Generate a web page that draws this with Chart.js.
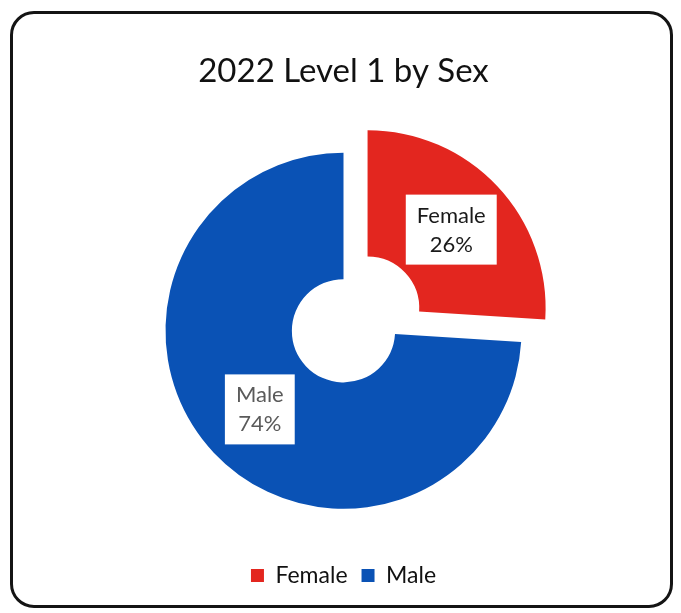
<!DOCTYPE html>
<html>
<head>
<meta charset="utf-8">
<script src="https://cdn.jsdelivr.net/npm/chart.js@4/dist/chart.umd.min.js"></script>
<style>
  html, body { margin: 0; padding: 0; background: #fff; }
  #frame {
    position: absolute; left: 10px; top: 11px; width: 657px; height: 591px;
    border: 3px solid #141414; border-radius: 24px;
  }
  #wrap { position: absolute; left: 0; top: 0; width: 681px; height: 613px; }
</style>
</head>
<body>
<div id="frame"></div>
<div id="wrap"><canvas id="chart" width="681" height="613"></canvas></div>
<script>
// chart data
var categories = ['Female', 'Male'];
var shares = [26, 74];
var sliceColors = ['#E3261F', '#0A52B5'];
var labelColors = ['#1a1a1a', '#5a5a5a'];
var explode = [132, 0]; // chart.js v4 draws offset / 4

var FONT = 'Lato, "Noto Sans", sans-serif';

// white boxed labels inside the slices
var boxLabels = {
    id: 'boxLabels',
    afterDatasetsDraw: function (chart) {
        var ctx = chart.ctx;
        var meta = chart.getDatasetMeta(0);
        ctx.save();
        ctx.font = '22px ' + FONT;
        ctx.textAlign = 'center';
        ctx.textBaseline = 'middle';
        meta.data.forEach(function (arc, i) {
            var p = arc.getProps(['x', 'y', 'startAngle', 'endAngle', 'innerRadius', 'outerRadius']);
            var mid = (p.startAngle + p.endAngle) / 2;
            var r = (p.innerRadius + p.outerRadius) / 2 + (explode[i] || 0) / 4;
            var x = p.x + Math.cos(mid) * r;
            var y = p.y + Math.sin(mid) * r;
            var lines = [categories[i], shares[i] + '%'];
            var w = Math.max(ctx.measureText(lines[0]).width, ctx.measureText(lines[1]).width) + 22;
            var h = 70;
            ctx.fillStyle = '#fff';
            ctx.fillRect(x - w / 2, y - h / 2, w, h);
            ctx.fillStyle = labelColors[i];
            ctx.fillText(lines[0], x, y - 14);
            ctx.fillText(lines[1], x, y + 15);
        });
        ctx.restore();
    }
};

var ctx = document.getElementById('chart');
var myChart = new Chart(ctx, {
    type: 'doughnut',
    data: {
        labels: categories,
        datasets: [{
            data: shares,
            backgroundColor: sliceColors,
            borderWidth: 0,
            offset: explode
        }]
    },
    options: {
        responsive: false,
        animation: false,
        radius: 178,
        cutout: '29%',
        layout: { padding: { left: 6, right: 0, top: 0, bottom: 16 } },
        plugins: {
            title: {
                display: true,
                text: '2022 Level 1 by Sex',
                color: '#111',
                font: { family: FONT, size: 33, weight: 'normal' },
                padding: { top: 52, bottom: 20 }
            },
            legend: {
                position: 'bottom',
                labels: {
                    color: '#111',
                    font: { family: FONT, size: 23 },
                    boxWidth: 13,
                    boxHeight: 13,
                    padding: 14
                }
            },
            tooltip: { enabled: false }
        }
    },
    plugins: [boxLabels]
});
</script>
</body>
</html>
